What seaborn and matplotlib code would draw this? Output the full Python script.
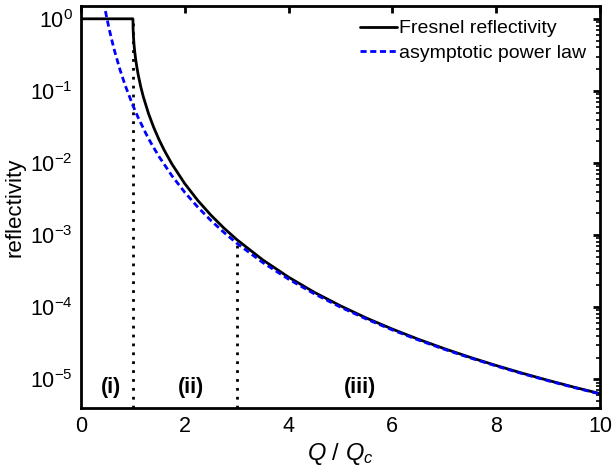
import math
import matplotlib
matplotlib.use("Agg")
import matplotlib.pyplot as plt
import seaborn as sns
import pandas as pd
from matplotlib.ticker import LogLocator, NullFormatter, FuncFormatter

sns.set_style("white")
plt.rcParams['font.family'] = ['Liberation Sans', 'DejaVu Sans']
plt.rcParams['mathtext.fontset'] = 'custom'
plt.rcParams['mathtext.rm'] = 'Liberation Sans'
plt.rcParams['mathtext.it'] = 'Liberation Sans:italic'
plt.rcParams['axes.unicode_minus'] = False
plt.rcParams['text.color'] = 'black'
plt.rcParams['axes.labelcolor'] = 'black'

# Fresnel reflectivity
fresnel_x = [0.0, 0.5, 1.0, 1.003, 1.01, 1.02, 1.03, 1.05, 1.075, 1.1, 1.15, 1.2, 1.3, 1.4, 1.5,
             1.6, 1.75, 2.0, 2.25, 2.5, 2.75, 3.0, 3.5, 4.0, 4.5, 5.0, 5.5, 6.0, 6.5, 7.0,
             7.5, 8.0, 8.5, 9.0, 9.5, 10.0]
fresnel_y = [1.0, 1.0, 1.0, 0.7336, 0.5682, 0.4499, 0.3763, 0.2837, 0.2145, 0.1696, 0.1148,
             0.08296, 0.04852, 0.03118, 0.02129, 0.01518, 0.009704, 0.005155, 0.003021,
             0.001898, 0.001256, 8.666e-4, 4.531e-4, 2.603e-4, 1.599e-4, 1.042e-4, 7.056e-5,
             4.960e-5, 3.584e-5, 2.657e-5, 2.010e-5, 1.550e-5, 1.214e-5, 9.645e-6, 7.758e-6,
             6.314e-6]

# asymptotic power law
power_x = [0.47, 0.5, 0.55, 0.6, 0.65, 0.75, 0.85, 1.0, 1.1, 1.25, 1.35, 1.5, 1.75, 2.0, 2.25,
           2.5, 2.75, 3.0, 3.5, 4.0, 4.5, 5.0, 5.5, 6.0, 6.5, 7.0, 7.5, 8.0, 8.5, 9.0, 9.5, 10.0]
power_y = [1.281, 1.0, 0.6830, 0.4823, 0.3501, 0.1975, 0.1197, 0.0625, 0.04269, 0.0256,
           0.01882, 0.01235, 0.006664, 0.003906, 0.002439, 0.0016, 0.001093, 7.716e-4,
           4.165e-4, 2.441e-4, 1.524e-4, 1.0e-4, 6.830e-5, 4.823e-5, 3.501e-5, 2.603e-5,
           1.975e-5, 1.526e-5, 1.197e-5, 9.526e-6, 7.673e-6, 6.25e-6]

# region dividers
divider_x = [1.0, 3.0]
divider_top = [1.0, 8.666e-4]
region_labels = ["(i)", "(ii)", "(iii)"]
region_label_x = [0.58, 2.12, 5.38]
region_label_y = 7.6e-6

x_ticks = [0, 2, 4, 6, 8, 10]
y_ticks = [1e0, 1e-1, 1e-2, 1e-3, 1e-4, 1e-5]
y_min, y_max = 4.0e-6, 1.5

fig = plt.figure(figsize=(6.14, 4.71), dpi=100)
ax = fig.add_axes([0.132, 0.134, 0.845, 0.853])

df_f = pd.DataFrame({"x": fresnel_x, "y": fresnel_y})
df_p = pd.DataFrame({"x": power_x, "y": power_y})

for xv, top in zip(divider_x, divider_top):
    ax.vlines(xv, y_min, top, colors="black", linestyles=(0, (1, 2.2)), linewidth=2, zorder=1)

sns.lineplot(data=df_f, x="x", y="y", ax=ax, color="black", linewidth=2,
             label="Fresnel reflectivity", sort=False, zorder=3)
sns.lineplot(data=df_p, x="x", y="y", ax=ax, color="#0000ff", linewidth=2,
             label="asymptotic power law", sort=False, zorder=4)
ax.lines[-1].set_dashes((2.2, 1.3))

ax.set_yscale("log")
ax.set_xlim(0, 10)
ax.set_ylim(y_min, y_max)
ax.set_xticks(x_ticks)
ax.set_yticks(y_ticks)
ax.yaxis.set_major_formatter(FuncFormatter(lambda v, p: "10$^{%d}$" % round(math.log10(v))))
ax.yaxis.set_minor_locator(LogLocator(base=10, subs=range(2, 10), numticks=20))
ax.yaxis.set_minor_formatter(NullFormatter())

for s in ax.spines.values():
    s.set_visible(True)
    s.set_color("black")
    s.set_linewidth(2)
ax.tick_params(axis="both", which="both", direction="in", top=True, right=True,
               labelsize=15.5, colors="black", width=2)
ax.tick_params(axis="both", which="major", length=5, pad=6)
ax.tick_params(axis="y", which="minor", length=3, width=1.2)

ax.set_xlabel("$Q$ / $Q_c$", fontsize=17, labelpad=3)
ax.set_ylabel("reflectivity", fontsize=16, labelpad=3)

for lab, lx in zip(region_labels, region_label_x):
    ax.text(lx, region_label_y, lab, fontsize=15.5, fontweight="bold", ha="center", va="center")

leg = ax.legend(loc="upper right", frameon=False, fontsize=14, handlelength=1.9,
                handletextpad=0.1, borderaxespad=0.3, labelspacing=0.35)

fig.savefig("out.png", dpi=100)
